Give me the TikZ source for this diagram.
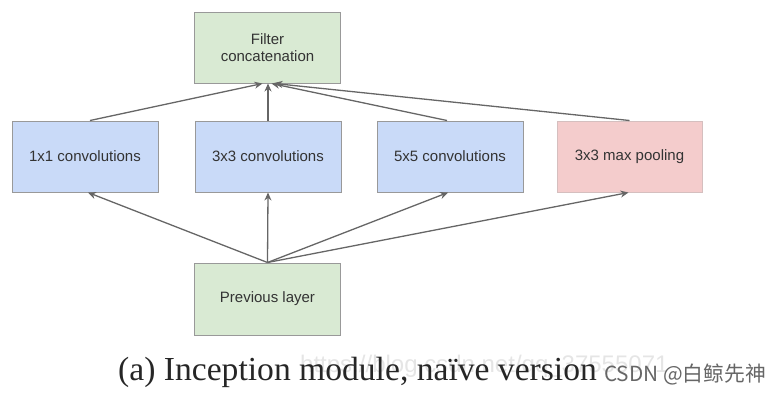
\documentclass[tikz,border=0pt]{standalone}
\usepackage{fontspec}
\setmainfont{Liberation Serif}
\newfontfamily\boxfont{Liberation Sans}
\newfontfamily\cjkfont{Noto Sans CJK SC}
\usetikzlibrary{arrows.meta}
\definecolor{gfill}{HTML}{D9EAD3}
\definecolor{bfill}{HTML}{C9DAF8}
\definecolor{rfill}{HTML}{F4CCCC}
\definecolor{bdr}{HTML}{999999}
\definecolor{arr}{HTML}{666666}
\definecolor{txt}{HTML}{333333}
\tikzset{
  layerbox/.style={draw=bdr, line width=1pt, minimum width=146pt, minimum height=71pt,
    inner sep=0pt, font=\boxfont\fontsize{15}{17.5}\selectfont, text=txt, align=center},
  conn/.style={draw=arr, line width=1.3pt, -{Stealth[length=8pt,width=7pt]}},
}
\begin{document}
\begin{tikzpicture}[x=1pt,y=-1pt]
\useasboundingbox (0,0) rectangle (771,400);
\node[layerbox, fill=gfill] (f) at (267.5,47.5) {Filter\\concatenation};
\node[layerbox, fill=bfill] (c1) at (85,156.5) {1x1 convolutions};
\node[layerbox, fill=bfill] (c3) at (268,156.5) {3x3 convolutions};
\node[layerbox, fill=bfill] (c5) at (450,156.5) {5x5 convolutions};
\node[layerbox, fill=rfill, draw=rfill!80!black!70, minimum width=145pt] (mp) at (629.5,156.5) {3x3 max pooling};
\node[layerbox, fill=gfill, minimum height=72pt] (p) at (267.5,299) {Previous layer};
% bottom arrows
\draw[conn] (p.north) -- ([xshift=3pt]c1.south);
\draw[conn] (p.north) -- (c3.south);
\draw[conn] (p.north) -- ([xshift=-2pt]c5.south);
\draw[conn] (p.north) -- ([xshift=-1pt]mp.south);
% top arrows
\draw[conn] ([xshift=5pt]c1.north) -- ([xshift=-5pt]f.south);
\draw[conn] (c3.north) -- ([xshift=0.5pt]f.south);
\draw[conn] ([xshift=-3pt]c5.north) -- ([xshift=4pt]f.south);
\draw[conn] (mp.north) -- ([xshift=7pt]f.south);
% faint watermark url
\node[anchor=base west, inner sep=0pt, text=gray!20, font=\boxfont\fontsize{24}{28}\selectfont] (url) at (300,372) {https://blog.csdn.net/qq\_37555071};
% caption
\node[anchor=base west, inner sep=0pt, text=black!85, font=\fontsize{33.6}{40}\selectfont] (cap) at (118,380) {(a) Inception module, naïve version};
\node[anchor=base west, inner sep=0pt, text=arr, font=\cjkfont\fontsize{20.8}{24}\selectfont] (wm) at (604,381) {CSDN @白鲸先神};
\end{tikzpicture}
\end{document}
